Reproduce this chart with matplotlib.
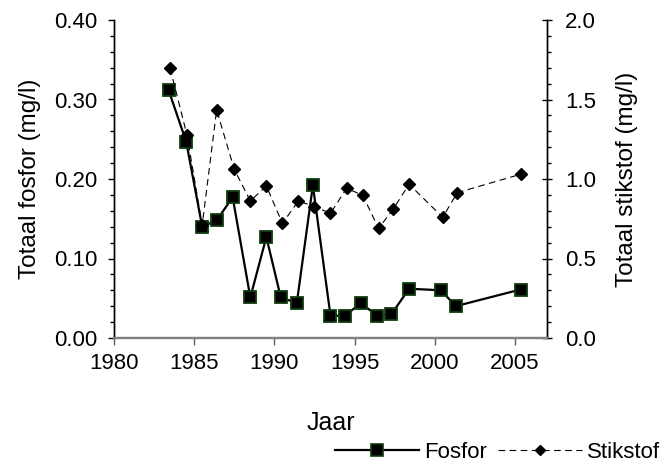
import matplotlib
matplotlib.use("Agg")
import matplotlib.pyplot as plt
from matplotlib.ticker import MultipleLocator, FormatStrFormatter
from matplotlib.lines import Line2D

plt.rcParams['font.family'] = ['Liberation Sans', 'DejaVu Sans']

# Data
fos_years = [1983.4, 1984.5, 1985.5, 1986.4, 1987.4, 1988.5, 1989.5, 1990.4, 1991.4,
             1992.4, 1993.5, 1994.4, 1995.4, 1996.4, 1997.3, 1998.4, 2000.4, 2001.3, 2005.35]
fosfor = [0.312, 0.247, 0.140, 0.148, 0.177, 0.051, 0.127, 0.051, 0.044,
          0.192, 0.028, 0.028, 0.044, 0.028, 0.030, 0.062, 0.060, 0.040, 0.061]

stik_years = [1983.5, 1984.55, 1985.5, 1986.4, 1987.5, 1988.5, 1989.5, 1990.5, 1991.5,
              1992.5, 1993.5, 1994.5, 1995.5, 1996.5, 1997.4, 1998.4, 2000.5, 2001.4, 2005.4]
stikstof = [1.696, 1.277, 0.71, 1.434, 1.061, 0.862, 0.956, 0.721, 0.862,
            0.826, 0.784, 0.941, 0.899, 0.690, 0.809, 0.967, 0.759, 0.914, 1.031]

x_ticks = [1980, 1985, 1990, 1995, 2000, 2005]

fig = plt.figure(figsize=(6.62, 4.70), dpi=100)
ax = fig.add_axes([114/662, 1-338/470, (547-114)/662, (338-20)/470])
ax2 = ax.twinx()

ax.plot(fos_years, fosfor, color='black', lw=1.6, marker='s', ms=9,
        mfc='black', mec='#0f3d0f', mew=1.3, zorder=2)
ax2.plot(stik_years, stikstof, color='black', lw=0.8, ls=(0, (6, 4)), marker='D', ms=6,
         mfc='black', mec='black', zorder=3)
ax.set_zorder(1)
ax2.set_zorder(2)
ax2.patch.set_visible(False)

ax.set_xlim(1980, 2007)
ax.set_ylim(0, 0.40)
ax2.set_ylim(0, 2.0)
ax.set_xticks(x_ticks)
ax.yaxis.set_major_locator(MultipleLocator(0.10))
ax.yaxis.set_minor_locator(MultipleLocator(0.02))
ax.yaxis.set_major_formatter(FormatStrFormatter('%.2f'))
ax2.yaxis.set_major_locator(MultipleLocator(0.5))
ax2.yaxis.set_minor_locator(MultipleLocator(0.1))
ax2.yaxis.set_major_formatter(FormatStrFormatter('%.1f'))

for a in (ax, ax2):
    a.spines['top'].set_visible(False)
    a.spines['left'].set_linewidth(1.0)
    a.spines['right'].set_linewidth(1.0)
    a.spines['bottom'].set_color('#808080')
    a.spines['bottom'].set_linewidth(1.6)

ax.tick_params(axis='x', direction='out', length=5, width=1, color='#606060', labelsize=16, pad=5.5)
ax.tick_params(axis='y', which='major', direction='out', length=4, width=1, labelsize=16, pad=8)
ax.tick_params(axis='y', which='minor', direction='out', length=3, width=1)
ax2.tick_params(axis='y', which='major', direction='inout', length=7, width=1, labelsize=16, pad=9.5)
ax2.tick_params(axis='y', which='minor', direction='out', length=3, width=1)

ax.set_xlabel('Jaar', fontsize=18, labelpad=27)
ax.set_ylabel('Totaal fosfor (mg/l)', fontsize=17.5, labelpad=9)
ax2.set_ylabel('Totaal stikstof (mg/l)', fontsize=17.5, labelpad=14)

h1 = Line2D([], [], color='black', lw=1.6, marker='s', ms=8, mfc='black', mec='#0f3d0f', mew=1.2)
h2 = Line2D([], [], color='black', lw=0.8, ls=(0, (6, 4)), marker='D', ms=5, mfc='black', mec='black')
fig.legend([h1, h2], ['Fosfor', 'Stikstof'], loc='lower right', bbox_to_anchor=(1.027, -0.028),
           ncol=2, frameon=False, fontsize=16, handlelength=3.8, handletextpad=0.2,
           columnspacing=0.5)

fig.savefig('out.png', dpi=100)
